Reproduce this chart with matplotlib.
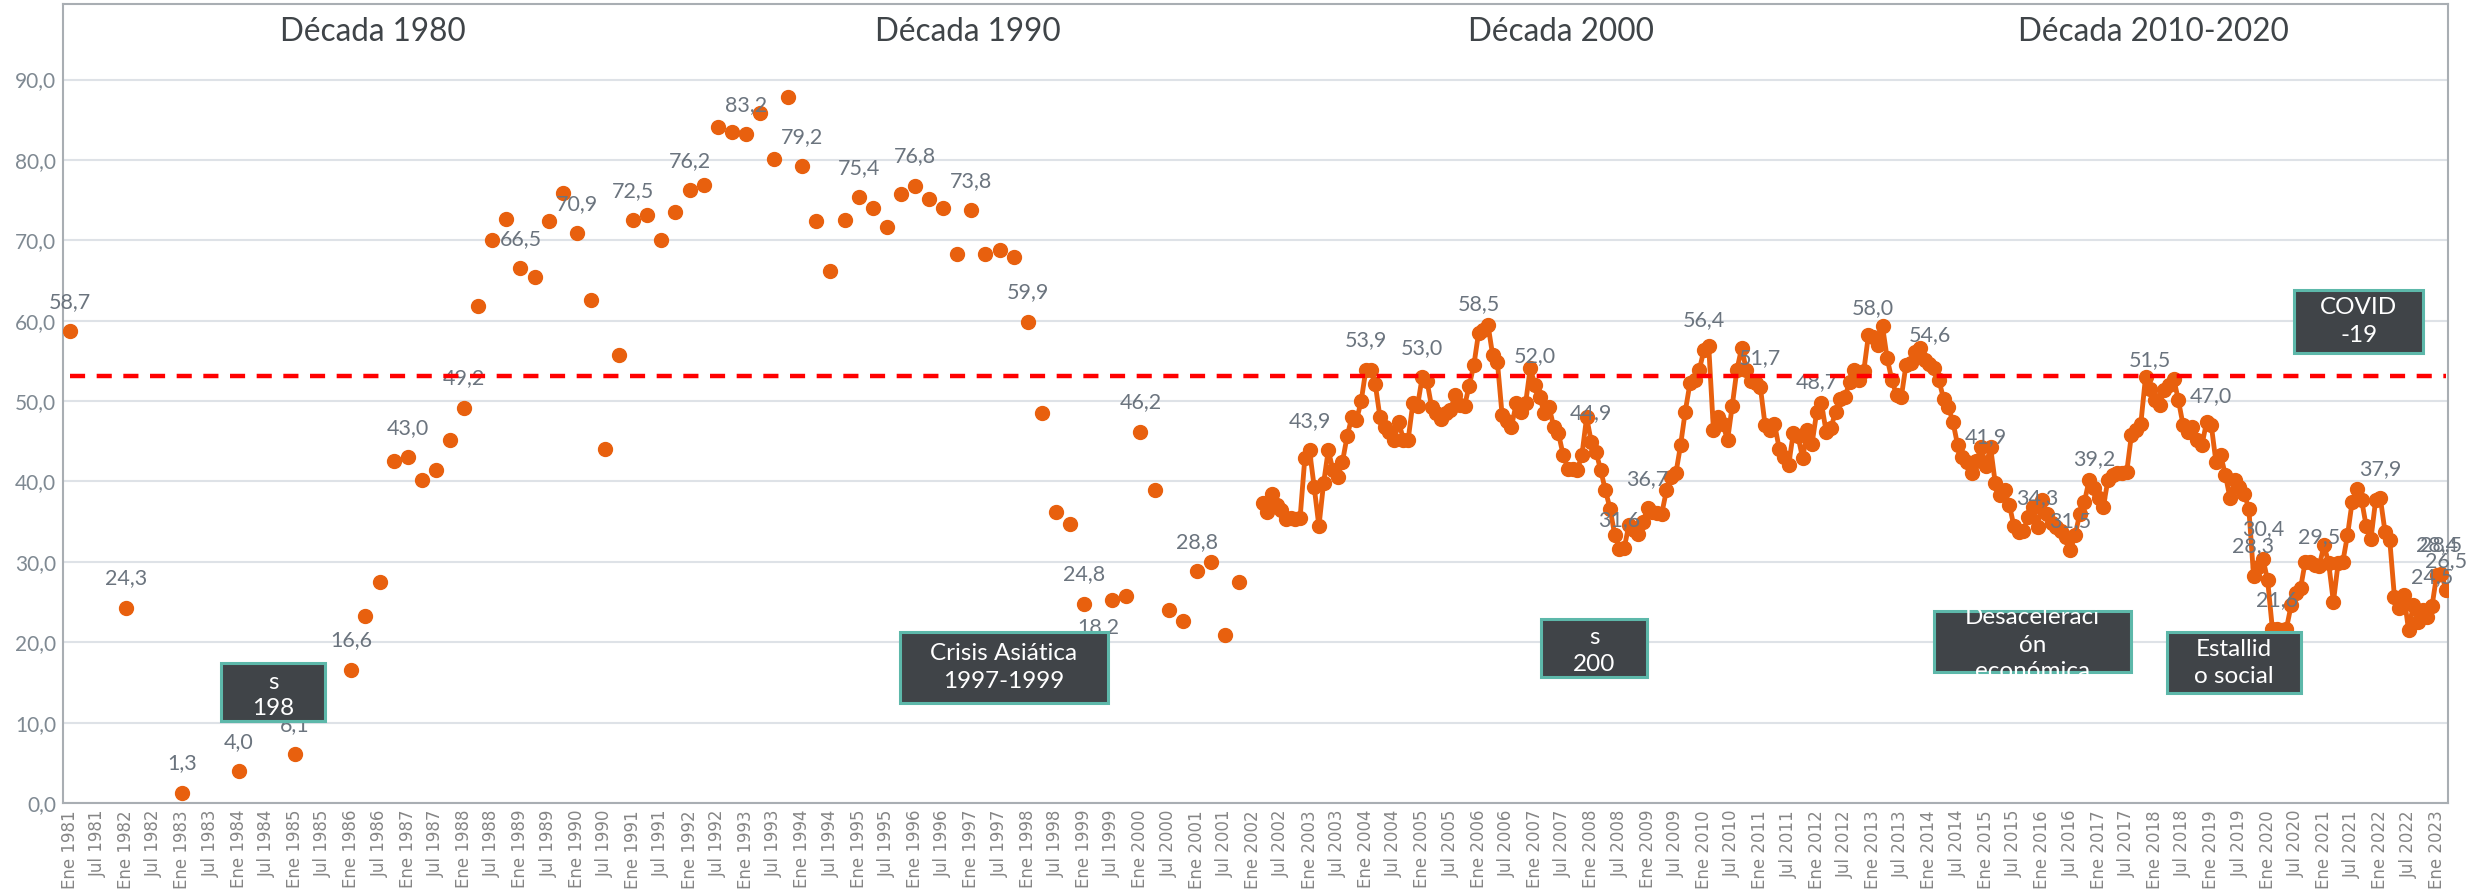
import numpy as np
import matplotlib
matplotlib.use("Agg")
import matplotlib.pyplot as plt
from matplotlib.patches import Rectangle

# ---------------- data ----------------
anio_inicio = 1981
# annual points 1981-1985 (January)
anual_anios = [1981, 1982, 1983, 1984, 1985]
anual_vals = [58.7, 24.3, 1.3, 4.0, 6.1]

# quarterly points Jan 1986 - Oct 2001 (Ene, Abr, Jul, Oct)
trim_inicio = (1986, 1)
trim_vals = [
    16.6, 23.3, 27.5, 42.5,   # 1986
    43.0, 40.2, 41.4, 45.2,   # 1987
    49.2, 61.8, 70.0, 72.7,   # 1988
    66.5, 65.4, 72.4, 75.9,   # 1989
    70.9, 62.6, 44.0, 55.7,   # 1990
    72.5, 73.1, 70.0, 73.5,   # 1991
    76.2, 76.9, 84.1, 83.5,   # 1992
    83.2, 85.9, 80.1, 87.8,   # 1993
    79.2, 72.4, 66.2, 72.5,   # 1994
    75.4, 74.0, 71.7, 75.8,   # 1995
    76.8, 75.2, 74.0, 68.3,   # 1996
    73.8, 68.3, 68.8, 67.9,   # 1997
    59.9, 48.5, 36.2, 34.7,   # 1998
    24.8, 18.2, 25.3, 25.7,   # 1999
    46.2, 39.0, 24.0, 22.7,   # 2000
    28.8, 30.0, 20.9, 27.5,   # 2001
]

# monthly points Mar 2002 - Mar 2023
mens_inicio = (2002, 3)
mens_vals = [
    37.3, 36.2, 38.4, 37.1, 36.4, 35.3, 35.4, 35.3, 35.5, 42.9,                   # 2002
    43.9, 39.3, 34.4, 39.8, 43.9, 41.4, 40.6, 42.4, 45.6, 48.0, 47.6, 50.0,       # 2003
    53.9, 53.9, 52.1, 48.0, 46.8, 46.2, 45.1, 47.4, 45.2, 45.2, 49.7, 49.4,       # 2004
    53.0, 52.5, 49.3, 48.5, 47.8, 48.5, 48.9, 50.7, 49.5, 49.4, 51.9, 54.5,       # 2005
    58.5, 58.8, 59.5, 55.7, 54.9, 48.3, 47.5, 46.8, 49.7, 48.7, 49.7, 54.1,       # 2006
    52.0, 50.5, 48.5, 49.3, 46.8, 46.0, 43.3, 41.6, 41.5, 41.4, 43.3, 48.0,       # 2007
    44.9, 43.7, 41.4, 38.9, 36.6, 33.3, 31.6, 31.7, 34.6, 34.0, 33.5, 35.0,       # 2008
    36.7, 36.2, 36.1, 36.0, 38.9, 40.6, 41.0, 44.5, 48.7, 52.2, 52.6, 53.9,       # 2009
    56.4, 56.8, 46.4, 48.0, 47.2, 45.1, 49.4, 53.9, 56.6, 53.9, 52.5, 52.2,       # 2010
    51.7, 47.0, 46.4, 47.2, 44.1, 43.0, 42.0, 46.0, 45.6, 42.9, 46.4, 44.7,       # 2011
    48.7, 49.7, 46.2, 46.6, 48.7, 50.3, 50.5, 52.4, 53.9, 52.6, 53.7, 58.2,       # 2012
    58.0, 57.0, 59.3, 55.3, 52.6, 50.7, 50.5, 54.5, 54.7, 56.1, 56.6, 55.1,       # 2013
    54.6, 54.1, 52.6, 50.3, 49.3, 47.4, 44.5, 43.1, 42.4, 41.0, 42.5, 44.3,       # 2014
    41.9, 44.3, 39.8, 38.3, 38.9, 37.1, 34.4, 33.7, 33.9, 35.6, 36.8, 34.3,       # 2015
    37.7, 36.0, 34.8, 34.3, 33.9, 33.1, 31.5, 33.3, 36.0, 37.5, 40.2, 39.2,       # 2016
    37.9, 36.8, 40.2, 40.8, 41.0, 41.1, 41.2, 45.8, 46.4, 47.2, 53.0, 51.5,       # 2017
    50.1, 49.5, 51.4, 52.0, 52.8, 50.1, 47.0, 46.2, 46.8, 45.1, 44.5, 47.4,       # 2018
    47.0, 42.4, 43.3, 40.8, 37.9, 40.2, 39.3, 38.5, 36.6, 28.3, 29.4, 30.4,       # 2019
    27.7, 21.7, 21.6, 21.5, 21.7, 24.6, 26.1, 26.7, 30.0, 30.0, 29.6, 29.5,       # 2020
    32.1, 29.8, 25.0, 29.8, 30.0, 33.3, 37.5, 39.1, 37.7, 34.4, 32.9, 37.7,       # 2021
    37.9, 33.7, 32.7, 25.6, 24.2, 25.9, 21.5, 24.6, 22.5, 24.0, 23.2, 24.5,       # 2022
    28.4, 28.5, 26.5,                                                             # 2023
]

promedio = 53.1

# points that carry a data label: (year, month)
etiquetas = [
    (1981, 1), (1982, 1), (1983, 1), (1984, 1), (1985, 1), (1986, 1), (1987, 1),
    (1988, 1), (1989, 1), (1990, 1), (1991, 1), (1992, 1), (1993, 1), (1994, 1),
    (1995, 1), (1996, 1), (1997, 1), (1998, 1), (1999, 1), (1999, 4), (2000, 1),
    (2001, 1), (2003, 1), (2004, 1), (2005, 1), (2006, 1), (2007, 1), (2008, 1),
    (2008, 7), (2009, 1), (2010, 1), (2011, 1), (2012, 1), (2013, 1), (2014, 1),
    (2015, 1), (2015, 12), (2016, 7), (2016, 12), (2017, 12), (2019, 1), (2019, 10),
    (2019, 12), (2020, 3), (2020, 12), (2022, 1), (2022, 12), (2023, 1), (2023, 2),
    (2023, 3),
]

decadas = ["Década 1980", "Década 1990", "Década 2000", "Década 2010-2020"]
decadas_x = [64.6, 191.2, 317.5, 443.7]

cajas = [
    # (x0, x1, y0, y1, lines, line y positions)
    (32.3, 54.4, 10.2, 17.4, ["s", "198"], [15.05, 11.8]),
    (176.9, 221.0, 12.4, 21.3, ["Crisis Asiática", "1997-1999"], [18.6, 15.1]),
    (313.3, 335.9, 15.7, 22.9, ["s", "200"], [20.6, 17.2]),
    (396.9, 439.0, 16.3, 23.9, ["Desaceleraci", "ón", "económica"], [23.1, 19.65, 16.3]),
    (446.5, 475.2, 13.7, 21.3, ["Estallid", "o social"], [19.15, 15.7]),
    (473.7, 501.1, 56.0, 63.8, ["COVID", "-19"], [61.6, 58.1]),
]

mes_nombre = ["Ene", "Jul"]

# ---------------- build series ----------------
def idx(y, m):
    return (y - anio_inicio) * 12 + (m - 1)

n_meses = idx(2023, 3) + 1
serie = np.full(n_meses, np.nan)
for a, v in zip(anual_anios, anual_vals):
    serie[idx(a, 1)] = v
t0 = idx(*trim_inicio)
for k, v in enumerate(trim_vals):
    serie[t0 + 3 * k] = v
m0 = idx(*mens_inicio)
for k, v in enumerate(mens_vals):
    serie[m0 + k] = v
x = np.arange(n_meses)

# ---------------- style ----------------
FNT = "Lato"
NAR = "#E8600E"
GRIS_ET = "#6B747E"
GRIS_EJE = "#7F8992"

fig = plt.figure(figsize=(24.86, 8.96), dpi=100)
W, H = 2486, 896
ax = fig.add_axes([63 / W, 93 / H, (2448 - 63) / W, (803 - 4) / H])
ax.set_xlim(-1.4, 506.4)
ax.set_ylim(0, 99.4)

ax.set_yticks(np.arange(0, 100, 10))
ax.set_yticklabels([f"{v:.1f}".replace(".", ",") for v in np.arange(0, 100, 10)],
                   fontsize=15, color=GRIS_EJE, family=FNT)
ax.yaxis.grid(True, color="#DEE2E7", lw=1.5, zorder=0)
ax.set_axisbelow(True)

ticks = np.arange(0, n_meses, 6)
ax.set_xticks(ticks)
ax.set_xticklabels([f"{mes_nombre[(t % 12) // 6]} {anio_inicio + t // 12}" for t in ticks],
                   rotation=90, fontsize=12, color="#858585", family="DejaVu Sans")
ax.tick_params(axis="both", length=0)
ax.tick_params(axis="x", pad=5)
ax.tick_params(axis="y", pad=5)
for s in ax.spines.values():
    s.set_color("#A9AEB3")
    s.set_linewidth(1.5)

# series
ax.plot(x, serie, color=NAR, lw=3.5, marker="o", ms=10, mec=NAR, mfc=NAR, zorder=3,
        solid_joinstyle="round")
# average line
ax.plot(x, np.full(n_meses, promedio), color="#FF0000", lw=3.2, ls=(0, (3.4, 2.6)), zorder=5)

# data labels
for (a, m) in etiquetas:
    i = idx(a, m)
    v = serie[i]
    ax.annotate(f"{v:.1f}".replace(".", ","), (x[i], v), xytext=(0, 21),
                textcoords="offset points", ha="center", va="center",
                fontsize=15.5, color=GRIS_ET, family=FNT, zorder=4)

# decade titles
for t, xd in zip(decadas, decadas_x):
    ax.text(xd, 95.9, t, ha="center", va="center", fontsize=22.7,
            color="#3F4448", family=FNT, zorder=4)

# annotation boxes
for (x0, x1, y0, y1, lineas, ys) in cajas:
    r = Rectangle((x0, y0), x1 - x0, y1 - y0, facecolor="#404448",
                  edgecolor="#5DB8AA", lw=2.2, zorder=7)
    ax.add_patch(r)
    for t, yy in zip(lineas, ys):
        tx = ax.text((x0 + x1) / 2, yy, t, ha="center", va="center", color="white",
                     fontsize=17.5, family=FNT, zorder=8)
        tx.set_clip_path(r)

fig.savefig("out.png", dpi=100)
